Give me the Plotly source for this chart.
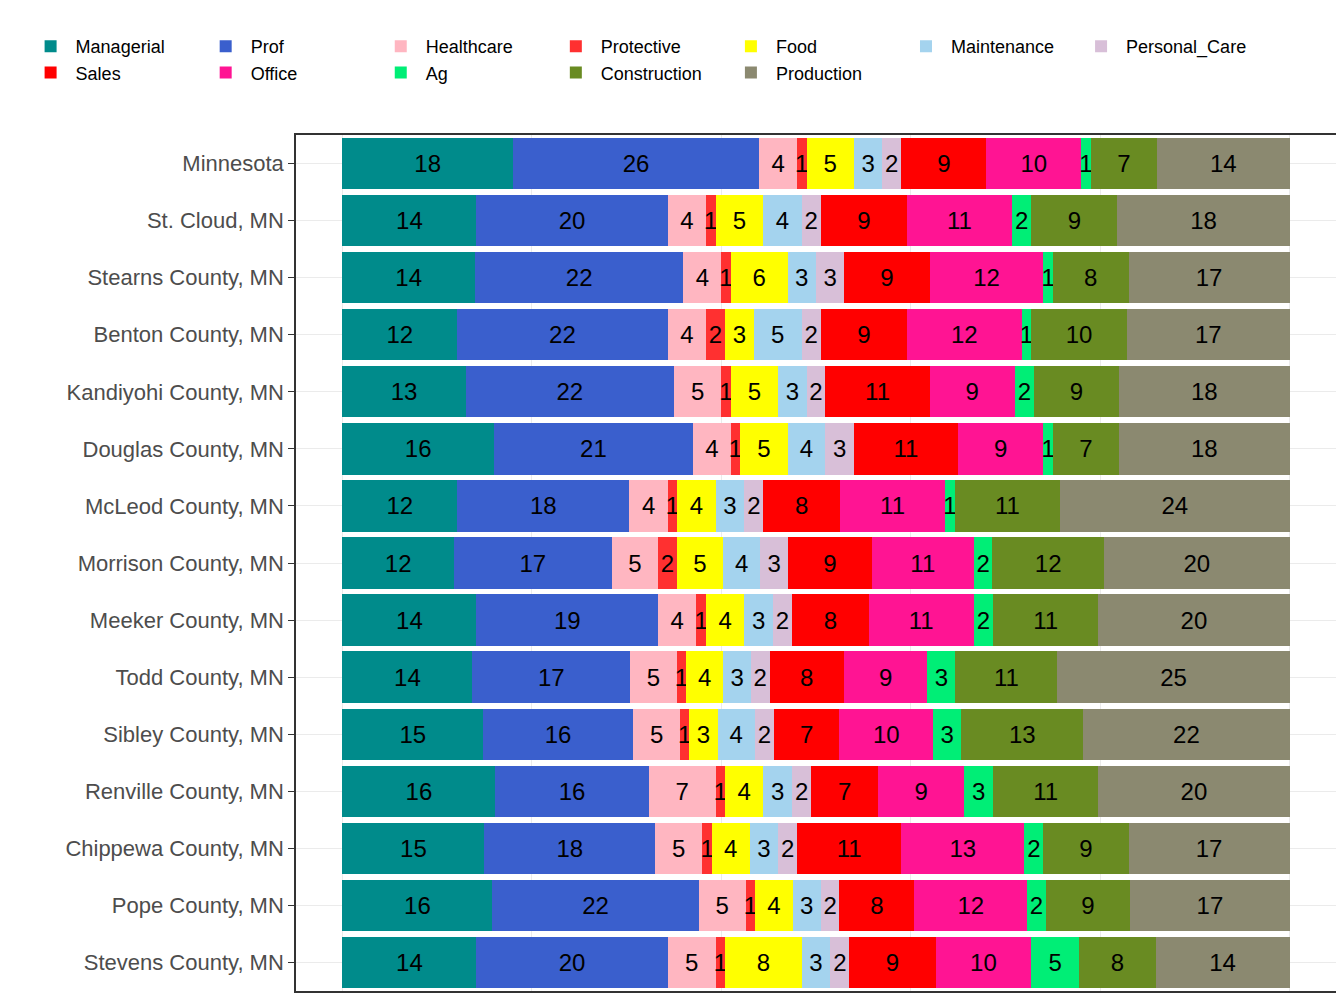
import plotly.graph_objects as go

regions = ["Minnesota","St. Cloud, MN","Stearns County, MN","Benton County, MN","Kandiyohi County, MN",
           "Douglas County, MN","McLeod County, MN","Morrison County, MN","Meeker County, MN","Todd County, MN",
           "Sibley County, MN","Renville County, MN","Chippewa County, MN","Pope County, MN","Stevens County, MN"]
categories = ["Managerial","Prof","Healthcare","Protective","Food","Maintenance","Personal_Care",
              "Sales","Office","Ag","Construction","Production"]
colors = ["#008B8B","#3A5FCD","#FFB6C1","#FF3030","#FFFF00","#A4D3EE","#D8BFD8",
          "#FF0000","#FF1493","#00EE76","#698B22","#8B8970"]
values = [
 [18,26,4,1,5,3,2,9,10,1,7,14],
 [14,20,4,1,5,4,2,9,11,2,9,18],
 [14,22,4,1,6,3,3,9,12,1,8,17],
 [12,22,4,2,3,5,2,9,12,1,10,17],
 [13,22,5,1,5,3,2,11,9,2,9,18],
 [16,21,4,1,5,4,3,11,9,1,7,18],
 [12,18,4,1,4,3,2,8,11,1,11,24],
 [12,17,5,2,5,4,3,9,11,2,12,20],
 [14,19,4,1,4,3,2,8,11,2,11,20],
 [14,17,5,1,4,3,2,8,9,3,11,25],
 [15,16,5,1,3,4,2,7,10,3,13,22],
 [16,16,7,1,4,3,2,7,9,3,11,20],
 [15,18,5,1,4,3,2,11,13,2,9,17],
 [16,22,5,1,4,3,2,8,12,2,9,17],
 [14,20,5,1,8,3,2,9,10,5,8,14],
]

fig = go.Figure()
totals = [sum(r) for r in values]
for j, cat in enumerate(categories):
    xs = [values[i][j] / totals[i] * 100 for i in range(len(regions))]
    fig.add_trace(go.Bar(
        y=regions, x=xs, name=cat, orientation="h",
        marker=dict(color=colors[j], line=dict(width=0)),
        text=[str(values[i][j]) for i in range(len(regions))],
        textposition="inside", insidetextanchor="middle",
        textfont=dict(size=24, color="black", family="Liberation Sans"),
        constraintext="none", cliponaxis=False,
    ))

fig.update_layout(
    barmode="stack", bargap=0.1,
    width=1344, height=1008,
    margin=dict(l=288, r=16, t=127, b=25, autoexpand=False),
    plot_bgcolor="white", paper_bgcolor="white",
    uniformtext=dict(minsize=24, mode="show"),
    font=dict(family="Liberation Sans", size=20, color="#4d4d4d"),
    legend=dict(orientation="h", x=-0.26, xanchor="left", y=1.125, yanchor="top",
                font=dict(size=18, color="black"), traceorder="normal", itemwidth=40),
    xaxis=dict(range=[-4.9, 104.9], showticklabels=False, showgrid=True,
               gridcolor="#ebebeb", zeroline=False, showline=True, mirror=True,
               linecolor="#333333", linewidth=1.5, ticks=""),
    yaxis=dict(autorange="reversed", showgrid=True, gridcolor="#ebebeb",
               ticks="outside", ticklen=6, tickcolor="#333333", showline=True, mirror=True,
               linecolor="#333333", linewidth=1.5, tickfont=dict(size=22, color="#4d4d4d")),
)
fig.write_html("out.html")
